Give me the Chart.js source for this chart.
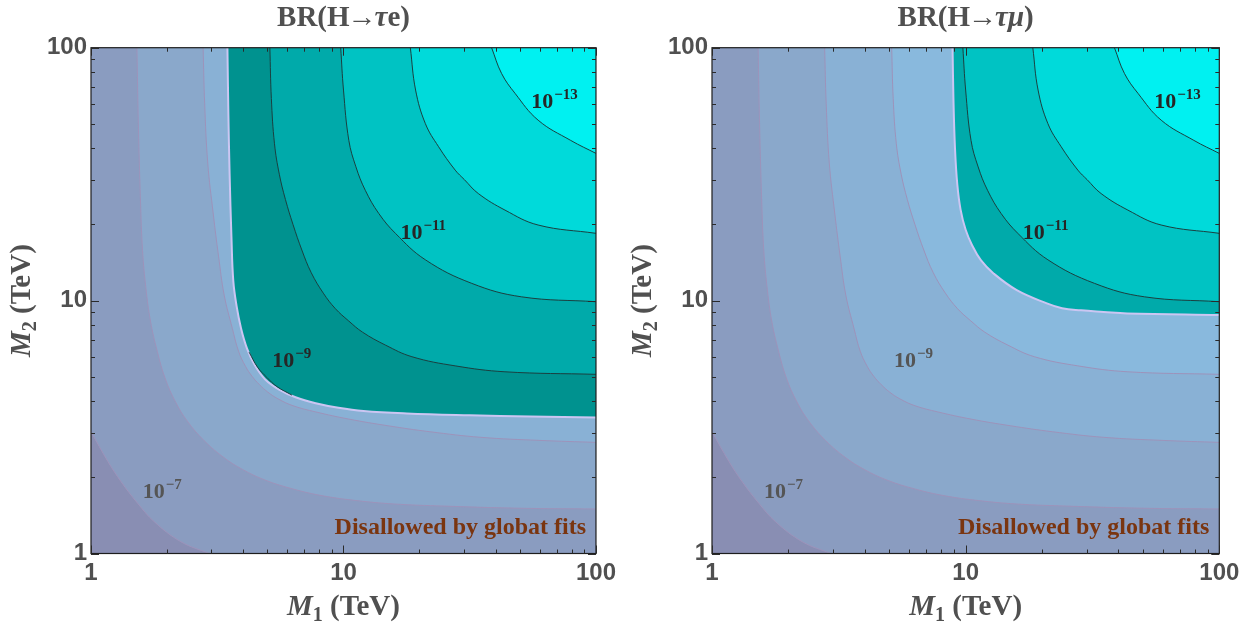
<!DOCTYPE html>
<html><head><meta charset="utf-8">
<script src="https://cdn.jsdelivr.net/npm/chart.js@4.4.1/dist/chart.umd.min.js"></script>
<style>
html,body{margin:0;padding:0;background:#fff;width:1255px;height:627px;overflow:hidden;}
canvas{position:absolute;top:0;}
#cTe{left:0;}
#cTmu{left:621px;}
</style></head><body>
<canvas id="cTe" width="621" height="627"></canvas>
<canvas id="cTmu" width="634" height="627"></canvas>
<script>
// ---------- data (M1 [TeV], M2 [TeV]) ----------
const AXIS_TICKS = [1, 10, 100];
const MINOR_TICKS = [2,3,4,5,6,7,8,9,20,30,40,50,60,70,80,90];

// iso-BR contour lines (identical in both panels)
const CONTOUR_A = [[1.0,3.03],[1.167,2.31],[1.317,1.92],[1.53,1.58],[1.78,1.336],[2.27,1.113],[2.94,1.0]];
const CONTOUR_B = [[1.52,100],[1.54,50],[1.57,25],[1.6,15.8],[1.65,11.2],[1.72,8.3],[1.83,6.3],[1.97,4.9],[2.16,3.98],[2.4,3.35],[2.8,2.8],[3.35,2.4],[3.98,2.15],[4.9,1.95],[6.3,1.8],[8.3,1.69],[11.2,1.62],[15.8,1.57],[25,1.54],[50,1.51],[100,1.5]];
const CONTOUR_C = [[2.78,100],[2.82,60],[2.9,35],[3.05,22],[3.2,15],[3.37,10.5],[3.63,7.76],[3.84,6.31],[4.09,5.5],[4.35,5.01],[4.65,4.65],[5.01,4.35],[5.5,4.09],[6.31,3.84],[7.76,3.63],[10.5,3.4],[15,3.2],[22,3.03],[35,2.88],[60,2.8],[100,2.75]];
const CONTOUR_9 = [[4.23,6.25],[4.57,5.45],[4.97,4.97],[5.45,4.57],[6.25,4.23]];
const CONTOUR_E = [[5.11,100],[5.18,63],[5.33,41.7],[5.57,31.6],[5.89,25.1],[6.31,20],[6.84,15.85],[7.45,12.9],[8.32,10.7],[9.29,9.29],[10.47,8.32],[11.9,7.5],[14.66,6.67],[18.66,6.0],[27.7,5.52],[43.6,5.23],[100,5.11]];
const CONTOUR_F = [[9.75,100],[10.0,68],[10.5,43],[11.2,33.8],[12.2,27.3],[13.8,22.1],[16.1,18.4],[21.1,14.5],[32.2,11.7],[50.7,10.35],[100,9.9]];
const CONTOUR_G = [[18.4,100],[19.3,68],[21.1,50.1],[23.8,40.6],[27.7,32.8],[30.1,30.1],[34.2,26.5],[43.6,22.8],[59,19.9],[100,18.45]];
const CONTOUR_H = [[38.6,100],[42.3,79],[47.8,66],[59,51.7],[79.4,43],[100,38.2]];

// edges of the region disallowed by global fits
const BOUNDARY_TE  = [[3.47,100],[3.5,55],[3.54,31.6],[3.6,17.8],[3.66,12.0],[3.77,9.55],[3.93,7.76],[4.15,6.46],[4.45,5.56],[4.89,4.89],[5.56,4.45],[6.46,4.15],[7.76,3.93],[9.55,3.77],[12.0,3.66],[17.8,3.58],[31.6,3.52],[55,3.48],[100,3.45]];
const BOUNDARY_TMU = [[8.88,100],[8.95,63],[9.08,39.8],[9.27,28.8],[9.55,22.9],[10.0,19.05],[10.59,16.6],[11.48,14.45],[12.88,12.81],[15.9,11.0],[20.9,9.75],[24,9.33],[28.5,9.15],[35,9.02],[43.3,8.9],[100,8.77]];

// contour labels: exponent and (M1, M2) of label start
const LABEL_EXP = ['\u22127','\u22129','\u221211','\u221213'];
const LABEL_AT  = [[1.604,1.657],[5.22,5.46],[16.8,17.6],[55.4,57.5]];

const TITLE_TE  = [['BR(H','b'],['\u2192','b',-2],['\u03c4','bi'],['e)','b']];
const TITLE_TMU = [['BR(H','b'],['\u2192','b',-2],['\u03c4\u03bc','bi'],[')','b']];
const XTITLE = [['M','bi'],['1','sub'],[' (TeV)','b']];
const YTITLE = [['M','bi'],['2','sub'],[' (TeV)','b']];
const NOTE = 'Disallowed by globat fits';

// ---------- styles ----------
const SERIF = '"Liberation Serif","Times New Roman",serif';
const SANS = '"Liberation Sans",Arial,sans-serif';
const COL = {
  corner:'#898eb3', ab:'#8a9cc0', bc:'#8aa8cb', ce:'#89b1d5', eb:'#89b9dd',
  t1:'#00928f', t2:'#00aaaa', t3:'#00c3c3', t4:'#00dada', t5:'#00f1f1',
  purple:'#9d93ba', dark:'#1a4040', lav:'#cbc6f2'
};

function xy(arr){ return arr.map(p => ({x:p[0], y:p[1]})); }
function layer(arr, fill, bg, line, w){
  return {data: xy(arr), fill: fill, backgroundColor: bg, borderColor: line, borderWidth: w,
          pointRadius: 0, pointHoverRadius: 0, tension: 0.4, clip: 0};
}
function stack(layers){
  const n = layers.length;
  return layers.map((l, i) => Object.assign(l, {order: n - i}));
}

const PANELS = {
  cTe: {
    bg: COL.ab,
    title: TITLE_TE,
    labelColors: ['#555555','#262626','#262626','#262626'],
    datasets: stack([
      layer(CONTOUR_A, 'start', COL.corner, COL.purple, 1),
      layer(CONTOUR_B, 'end', COL.bc, COL.purple, 1),
      layer(CONTOUR_C, 'end', COL.ce, COL.purple, 1),
      layer(BOUNDARY_TE, 'end', COL.t1, COL.lav, 2),
      layer(CONTOUR_9, false, 'rgba(0,0,0,0)', COL.dark, 1),
      layer(CONTOUR_E, 'end', COL.t2, COL.dark, 1),
      layer(CONTOUR_F, 'end', COL.t3, COL.dark, 1),
      layer(CONTOUR_G, 'end', COL.t4, COL.dark, 1),
      layer(CONTOUR_H, 'end', COL.t5, COL.dark, 1)
    ]),
    padRight: 22.7
  },
  cTmu: {
    bg: COL.ab,
    title: TITLE_TMU,
    labelColors: ['#555555','#555555','#262626','#262626'],
    datasets: stack([
      layer(CONTOUR_A, 'start', COL.corner, COL.purple, 1),
      layer(CONTOUR_B, 'end', COL.bc, COL.purple, 1),
      layer(CONTOUR_C, 'end', COL.ce, COL.purple, 1),
      layer(CONTOUR_E, 'end', COL.eb, COL.purple, 1),
      layer(BOUNDARY_TMU, 'end', COL.t2, COL.lav, 2),
      layer(CONTOUR_F, 'end', COL.t3, COL.dark, 1),
      layer(CONTOUR_G, 'end', COL.t4, COL.dark, 1),
      layer(CONTOUR_H, 'end', COL.t5, COL.dark, 1)
    ]),
    padRight: 35.7
  }
};

function fontFor(kind, size){
  if (kind === 'bi') return 'italic bold ' + size + 'px ' + SERIF;
  if (kind === 'sub') return 'bold ' + Math.round(size*0.68) + 'px ' + SERIF;
  return 'bold ' + size + 'px ' + SERIF;
}
// segments: [text, kind, kerning applied on both sides]
function rich(ctx, segs, x, y, align, size){
  let w = 0;
  const m = segs.map(s => { ctx.font = fontFor(s[1], size); const ww = ctx.measureText(s[0]).width + 2*(s[2]||0); w += ww; return ww; });
  let cx = align === 'center' ? x - w/2 : (align === 'right' ? x - w : x);
  segs.forEach((s, i) => {
    ctx.font = fontFor(s[1], size);
    const dy = s[1] === 'sub' ? size*0.22 : 0;
    ctx.fillText(s[0], cx + (s[2]||0), y + dy);
    cx += m[i];
  });
}

const panelPlugin = {
  id: 'panelDecor',
  beforeDatasetsDraw(chart){
    const p = PANELS[chart.canvas.id], a = chart.chartArea, ctx = chart.ctx;
    ctx.save(); ctx.fillStyle = p.bg;
    ctx.fillRect(a.left, a.top, a.right - a.left, a.bottom - a.top);
    ctx.restore();
  },
  afterDatasetsDraw(chart){
    const p = PANELS[chart.canvas.id], a = chart.chartArea, ctx = chart.ctx;
    const xs = chart.scales.x, ys = chart.scales.y;
    ctx.save();
    ctx.textAlign = 'left'; ctx.textBaseline = 'alphabetic';
    // contour labels
    LABEL_AT.forEach((pt, i) => {
      const px = xs.getPixelForValue(pt[0]), py = ys.getPixelForValue(pt[1]);
      ctx.fillStyle = p.labelColors[i];
      ctx.font = 'bold 22px ' + SERIF;
      ctx.fillText('10', px, py);
      const w = ctx.measureText('10').width;
      ctx.font = 'bold 15px ' + SERIF;
      ctx.fillText(LABEL_EXP[i], px + w + 1, py - 9);
    });
    // note
    ctx.fillStyle = '#7a3510';
    ctx.font = 'bold 24px ' + SERIF;
    ctx.textAlign = 'right';
    ctx.fillText(NOTE, a.right - 10, a.bottom - 19.5);
    // frame
    ctx.strokeStyle = '#1e1e1e'; ctx.lineWidth = 1.2;
    ctx.strokeRect(a.left, a.top, a.right - a.left, a.bottom - a.top);
    // inward ticks on all four sides
    ctx.strokeStyle = '#2a2a2a'; ctx.lineWidth = 1;
    ctx.beginPath();
    const ticks = AXIS_TICKS.map(v => [v, 8]).concat(MINOR_TICKS.map(v => [v, 4]));
    ticks.forEach(t => {
      const px = Math.round(xs.getPixelForValue(t[0])) + 0.5;
      const py = Math.round(ys.getPixelForValue(t[0])) + 0.5;
      ctx.moveTo(px, a.bottom); ctx.lineTo(px, a.bottom - t[1]);
      ctx.moveTo(px, a.top); ctx.lineTo(px, a.top + t[1]);
      ctx.moveTo(a.left, py); ctx.lineTo(a.left + t[1], py);
      ctx.moveTo(a.right, py); ctx.lineTo(a.right - t[1], py);
    });
    ctx.stroke();
    ctx.restore();
  },
  afterDraw(chart){
    const p = PANELS[chart.canvas.id], a = chart.chartArea, ctx = chart.ctx;
    const cx = (a.left + a.right) / 2, cy = (a.top + a.bottom) / 2;
    ctx.save();
    ctx.fillStyle = '#505050'; ctx.textAlign = 'left'; ctx.textBaseline = 'alphabetic';
    rich(ctx, p.title, cx, 26, 'center', 29);
    rich(ctx, XTITLE, cx, 615, 'center', 29);
    ctx.translate(a.left - 61, cy);
    ctx.rotate(-Math.PI/2);
    rich(ctx, YTITLE, 0, 0, 'center', 29);
    ctx.restore();
  }
};

function makeChart(id){
  const p = PANELS[id];
  const tickFont = {family: SANS, size: 24, weight: 'bold'};
  return new Chart(document.getElementById(id), {
    type: 'line',
    data: {datasets: p.datasets},
    options: {
      responsive: false, animation: false, devicePixelRatio: 1,
      events: [],
      layout: {padding: {top: 47.7, right: p.padRight, left: 0, bottom: 0}},
      plugins: {legend: {display: false}, tooltip: {enabled: false}, title: {display: false}},
      scales: {
        x: {
          type: 'logarithmic', min: 1, max: 100,
          grid: {display: false, drawTicks: false}, border: {display: false},
          afterBuildTicks: s => { s.ticks = AXIS_TICKS.map(v => ({value: v})); },
          afterFit: s => { s.height = 73.5; },
          ticks: {autoSkip: false, maxRotation: 0, padding: 5, color: '#505050', font: tickFont, callback: v => String(v)}
        },
        y: {
          type: 'logarithmic', min: 1, max: 100,
          grid: {display: false, drawTicks: false}, border: {display: false},
          afterBuildTicks: s => { s.ticks = AXIS_TICKS.map(v => ({value: v})); },
          afterFit: s => { s.width = 91; },
          ticks: {autoSkip: false, padding: 4, color: '#505050', font: tickFont, callback: v => String(v)}
        }
      }
    },
    plugins: [panelPlugin]
  });
}
makeChart('cTe');
makeChart('cTmu');
</script>
</body></html>
